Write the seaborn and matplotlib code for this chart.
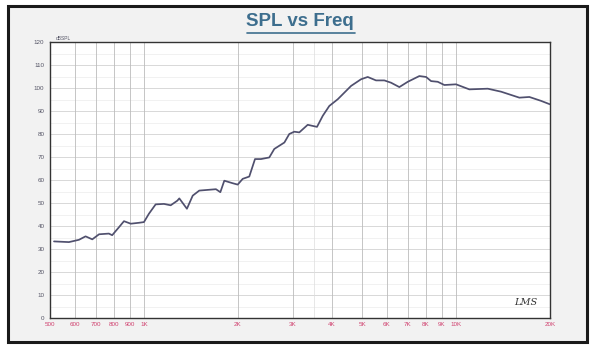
import numpy as np
import pandas as pd
import matplotlib
matplotlib.use("Agg")
import matplotlib.pyplot as plt
import seaborn as sns
from matplotlib.patches import Rectangle
from matplotlib.lines import Line2D

# frequency response
freq_hz = [515, 575, 619, 650, 683, 718, 772, 791, 832, 863, 907, 964, 1000,
           1037, 1090, 1159, 1218, 1279, 1298, 1373, 1433, 1504, 1600, 1701,
           1757, 1809, 1924, 1997, 2072, 2175, 2269, 2371, 2521, 2616, 2715,
           2818, 2922, 3032, 3146, 3347, 3585, 3740, 3926, 4177, 4609, 4961,
           5212, 5541, 5892, 6191, 6581, 7003, 7628, 8015, 8317, 8737, 9173,
           10000, 11031, 12637, 13941, 15956, 17176, 18729, 20000]
spl_db = [33.3, 33.0, 34.0, 35.5, 34.2, 36.4, 36.7, 36.0, 39.5, 42.1, 41.0,
          41.4, 41.7, 45.3, 49.4, 49.6, 49.0, 51.0, 52.0, 47.5, 53.2, 55.4,
          55.7, 56.0, 54.7, 59.7, 58.6, 58.0, 60.5, 61.5, 69.1, 69.1, 69.8,
          73.5, 74.9, 76.3, 80.0, 81.0, 80.7, 84.0, 83.1, 87.9, 92.2, 95.1,
          100.9, 103.8, 104.8, 103.3, 103.3, 102.3, 100.4, 102.7, 105.2, 104.8,
          103.0, 102.7, 101.3, 101.6, 99.4, 99.7, 98.4, 95.8, 96.1, 94.4, 92.9]

x_ticks = [500, 600, 700, 800, 900, 1000, 2000, 3000, 4000, 5000, 6000,
           7000, 8000, 9000, 10000, 20000]
x_labels = ["500", "600", "700", "800", "900", "1K", "2K", "3K", "4K", "5K",
            "6K", "7K", "8K", "9K", "10K", "20K"]
y_ticks = list(range(0, 121, 10))

df = pd.DataFrame({"freq": freq_hz, "spl": spl_db})

sns.set_style("white")
plt.rcParams['font.family'] = ['Liberation Sans', 'DejaVu Sans']

fig = plt.figure(figsize=(5.99, 3.56), dpi=100)
fig.patch.set_facecolor("white")

# outer panel with dark frame
W, H = 599, 356
fig.add_artist(Rectangle((8 / W, 1 - 342 / H), 579 / W, 336 / H,
                         transform=fig.transFigure, facecolor="#f2f2f2",
                         edgecolor="#1a1a1a", linewidth=2.2, zorder=0))

ax = fig.add_axes([50 / W, 1 - 318 / H, 500 / W, 276 / H])
ax.set_facecolor("white")

# grid
for v in range(5, 120, 10):
    ax.axhline(v, color="#ececec", lw=0.5, zorder=1)
for v in range(10, 120, 10):
    ax.axhline(v, color="#d2d2d2", lw=0.6, zorder=1)
for f in x_ticks[1:-1]:
    ax.axvline(f, color="#bcbcbc", lw=0.6, zorder=1)
ax.axvline(3500, color="#dddddd", lw=0.5, zorder=1)

sns.lineplot(data=df, x="freq", y="spl", ax=ax, color="#50506e",
             linewidth=1.25, zorder=3)

ax.set_xscale("log")
ax.set_xlim(500, 20000)
ax.set_ylim(0, 120)
ax.set_xticks(x_ticks)
ax.set_xticklabels(x_labels)
ax.xaxis.set_minor_locator(matplotlib.ticker.NullLocator())
ax.set_yticks(y_ticks)
ax.set_yticklabels([str(v) for v in y_ticks])
ax.tick_params(axis="x", labelsize=4.5, labelcolor="#d0406e", length=0, pad=3)
ax.tick_params(axis="y", labelsize=4.5, labelcolor="#555566", length=0, pad=4)
ax.set_xlabel("")
ax.set_ylabel("")
for s in ax.spines.values():
    s.set_color("#333333")
    s.set_linewidth(1.0)

ax.text(0.012, 1.005, "dBSPL", transform=ax.transAxes, fontsize=3.5,
        color="#555566", va="bottom", ha="left")
ax.text(0.975, 0.04, "LMS", transform=ax.transAxes, fontsize=7,
        style="italic", color="#333333", ha="right", va="bottom",
        family=["DejaVu Serif"])

# title with underline
fig.text(300 / W, 1 - 22 / H, "SPL vs Freq", fontsize=13.5, fontweight="bold",
         color="#3d6e8e", ha="center", va="center")
fig.add_artist(Line2D([247 / W, 355 / W], [1 - 33 / H, 1 - 33 / H],
                      transform=fig.transFigure, color="#3d6e8e", lw=1.2))

plt.savefig("out.png", dpi=100)
